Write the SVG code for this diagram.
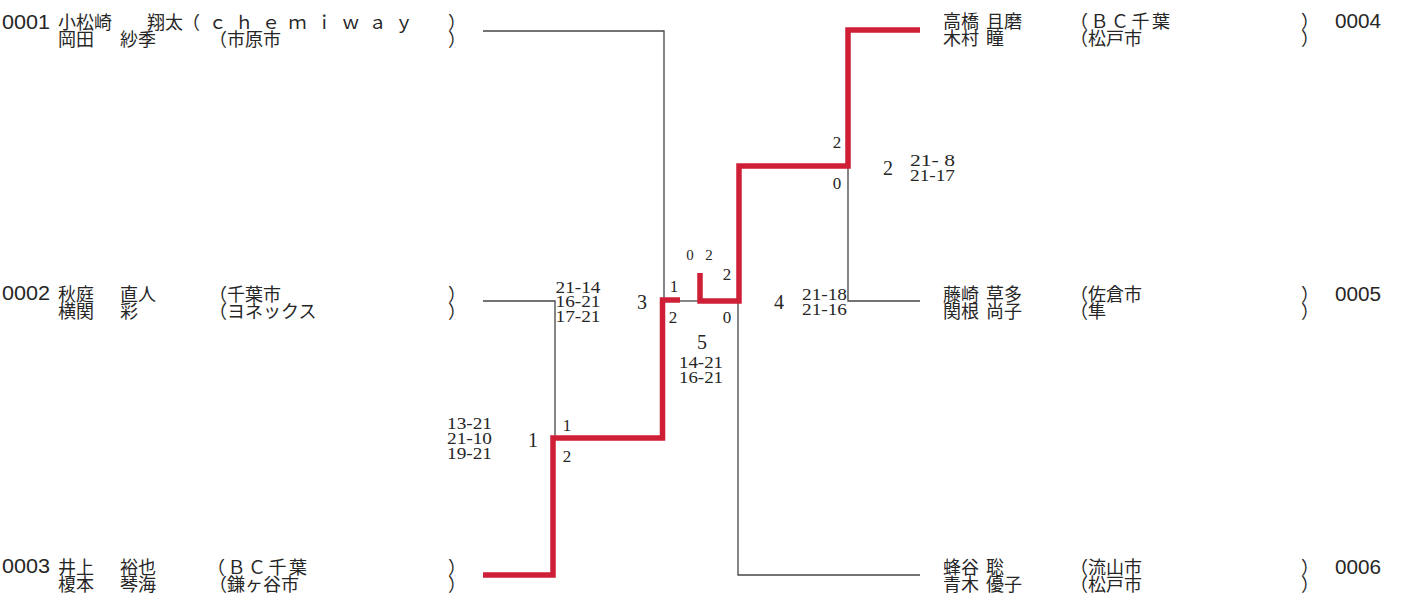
<svg xmlns="http://www.w3.org/2000/svg" width="1419" height="601" viewBox="0 0 1419 601">
<style>
text { dominant-baseline: central; fill: #262626; }
.nm { font-family: "Noto Sans CJK JP", "Noto Sans", sans-serif; font-size: 18px; }
.id { font-family: "Liberation Sans", sans-serif; font-size: 20px; }
.sc { font-family: "Liberation Serif", serif; font-size: 16px; text-anchor: middle; }
.gp { font-family: "Liberation Serif", serif; font-size: 17px; text-anchor: middle; }
.mn { font-family: "Liberation Serif", serif; font-size: 20px; text-anchor: middle; }
.thin { fill: none; stroke: #454545; stroke-width: 1.3; }
.win { fill: none; stroke: #cf1f36; stroke-width: 5.5; stroke-linejoin: miter; }
</style>
<rect width="1419" height="601" fill="#ffffff"/>

<g id="connectors">
  <path class="thin" d="M483,31 H664 V300"/>
  <path class="thin" d="M483,301 H555 V438"/>
  <path class="thin" d="M680,301 H700"/>
  <path class="thin" d="M848,166 V301 H920"/>
  <path class="thin" d="M738,301 V575 H920"/>
  <path class="win" d="M483,575 H553 V438 H662.5 V300 H680"/>
  <path class="win" d="M700,273 V301 H739 V166 H848 V30 H920"/>
</g>

<g id="player-0001">
  <text class="id" x="2" y="22" textLength="48" lengthAdjust="spacingAndGlyphs">0001</text>
  <text class="nm" x="58" y="21">小松崎</text>
  <text class="nm" x="147" y="21">翔太</text>
  <text class="nm" x="182" y="21" textLength="231" lengthAdjust="spacing">（ｃｈｅｍｉｗａｙ</text>
  <text class="nm" x="448" y="21">）</text>
  <text class="nm" x="58" y="38">岡田</text>
  <text class="nm" x="120" y="38">紗季</text>
  <text class="nm" x="209" y="38">（市原市</text>
  <text class="nm" x="448" y="38">）</text>
</g>

<g id="player-0002">
  <text class="id" x="2" y="293" textLength="48" lengthAdjust="spacingAndGlyphs">0002</text>
  <text class="nm" x="58" y="292.5">秋庭</text>
  <text class="nm" x="120" y="292.5">直人</text>
  <text class="nm" x="209" y="292.5">（千葉市</text>
  <text class="nm" x="448" y="292.5">）</text>
  <text class="nm" x="58" y="309.5">横関</text>
  <text class="nm" x="120" y="309.5">彩</text>
  <text class="nm" x="209" y="309.5">（ヨネックス</text>
  <text class="nm" x="448" y="309.5">）</text>
</g>

<g id="player-0003">
  <text class="id" x="2" y="566" textLength="48" lengthAdjust="spacingAndGlyphs">0003</text>
  <text class="nm" x="58" y="565.5">井上</text>
  <text class="nm" x="120" y="565.5">裕也</text>
  <text class="nm" x="207" y="565.5" textLength="100" lengthAdjust="spacing">（ＢＣ千葉</text>
  <text class="nm" x="448" y="565.5">）</text>
  <text class="nm" x="58" y="582.5">榎本</text>
  <text class="nm" x="120" y="582.5">琴海</text>
  <text class="nm" x="209" y="582.5">（鎌ヶ谷市</text>
  <text class="nm" x="448" y="582.5">）</text>
</g>

<g id="player-0004">
  <text class="nm" x="943" y="20">高橋</text>
  <text class="nm" x="986" y="20">且磨</text>
  <text class="nm" x="1070" y="20" textLength="100" lengthAdjust="spacing">（ＢＣ千葉</text>
  <text class="nm" x="1301" y="20">）</text>
  <text class="id" x="1335" y="21" textLength="46" lengthAdjust="spacingAndGlyphs">0004</text>
  <text class="nm" x="943" y="37">木村</text>
  <text class="nm" x="986" y="37">瞳</text>
  <text class="nm" x="1070" y="37">（松戸市</text>
  <text class="nm" x="1301" y="37">）</text>
</g>

<g id="player-0005">
  <text class="nm" x="943" y="293">藤崎</text>
  <text class="nm" x="986" y="293">草多</text>
  <text class="nm" x="1070" y="293">（佐倉市</text>
  <text class="nm" x="1301" y="293">）</text>
  <text class="id" x="1335" y="294" textLength="46" lengthAdjust="spacingAndGlyphs">0005</text>
  <text class="nm" x="943" y="310">関根</text>
  <text class="nm" x="986" y="310">尚子</text>
  <text class="nm" x="1070" y="310">（隼</text>
  <text class="nm" x="1301" y="310">）</text>
</g>

<g id="player-0006">
  <text class="nm" x="943" y="566">蜂谷</text>
  <text class="nm" x="986" y="566">聡</text>
  <text class="nm" x="1070" y="566">（流山市</text>
  <text class="nm" x="1301" y="566">）</text>
  <text class="id" x="1335" y="567" textLength="46" lengthAdjust="spacingAndGlyphs">0006</text>
  <text class="nm" x="943" y="583">青木</text>
  <text class="nm" x="986" y="583">優子</text>
  <text class="nm" x="1070" y="583">（松戸市</text>
  <text class="nm" x="1301" y="583">）</text>
</g>

<g id="match-1">
  <text class="mn" x="533" y="440">1</text>
  <text class="sc" x="469.5" y="423" textLength="45" lengthAdjust="spacingAndGlyphs">13-21</text>
  <text class="sc" x="469.5" y="438" textLength="45" lengthAdjust="spacingAndGlyphs">21-10</text>
  <text class="sc" x="469.5" y="453" textLength="45" lengthAdjust="spacingAndGlyphs">19-21</text>
  <text class="gp" x="567" y="425">1</text>
  <text class="gp" x="567" y="456">2</text>
</g>

<g id="match-3">
  <text class="mn" x="642" y="302">3</text>
  <text class="sc" x="578" y="287" textLength="45" lengthAdjust="spacingAndGlyphs">21-14</text>
  <text class="sc" x="578" y="301.5" textLength="45" lengthAdjust="spacingAndGlyphs">16-21</text>
  <text class="sc" x="578" y="316" textLength="45" lengthAdjust="spacingAndGlyphs">17-21</text>
  <text class="gp" x="674" y="286">1</text>
  <text class="gp" x="673" y="317">2</text>
</g>

<g id="match-5">
  <text class="mn" x="702" y="342">5</text>
  <text class="sc" x="701" y="362" textLength="44" lengthAdjust="spacingAndGlyphs">14-21</text>
  <text class="sc" x="701" y="377" textLength="44" lengthAdjust="spacingAndGlyphs">16-21</text>
  <text class="gp" x="690" y="255" style="font-size:15px">0</text>
  <text class="gp" x="709" y="255" style="font-size:15px">2</text>
  <text class="gp" x="727" y="274">2</text>
  <text class="gp" x="727" y="317">0</text>
</g>

<g id="match-4">
  <text class="mn" x="779" y="302">4</text>
  <text class="sc" x="824.5" y="294" textLength="45" lengthAdjust="spacingAndGlyphs">21-18</text>
  <text class="sc" x="824.5" y="309.5" textLength="45" lengthAdjust="spacingAndGlyphs">21-16</text>
</g>

<g id="match-2">
  <text class="mn" x="888" y="168">2</text>
  <text class="sc" x="932.5" y="160" textLength="45" lengthAdjust="spacingAndGlyphs">21- 8</text>
  <text class="sc" x="932.5" y="175" textLength="45" lengthAdjust="spacingAndGlyphs">21-17</text>
  <text class="gp" x="837" y="142">2</text>
  <text class="gp" x="837" y="183">0</text>
</g>
</svg>
